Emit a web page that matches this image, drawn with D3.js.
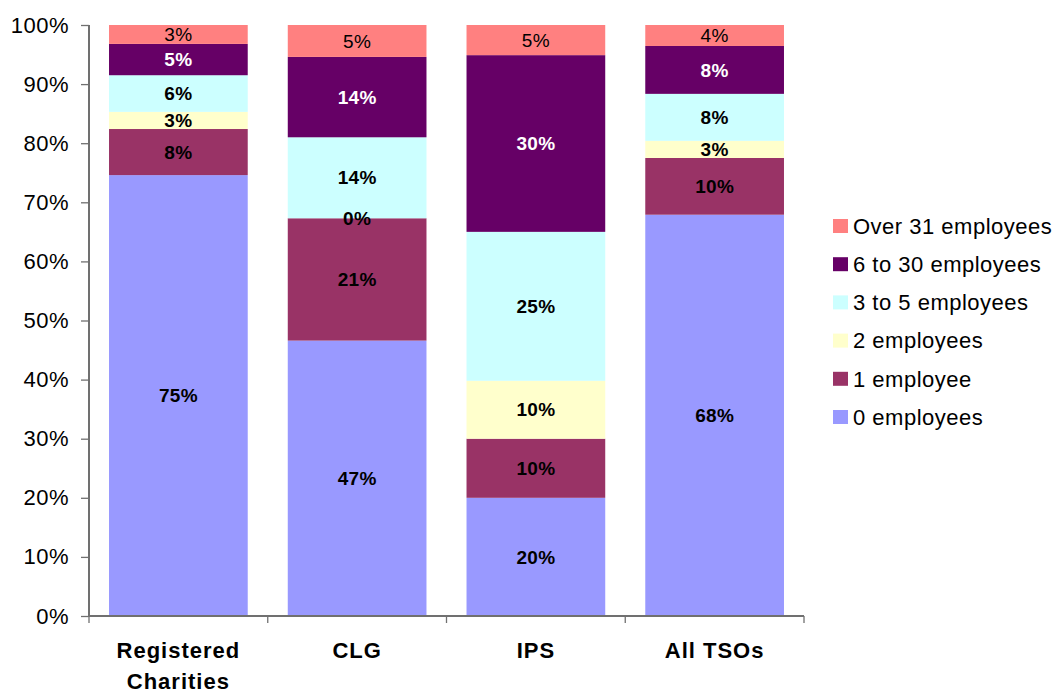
<!DOCTYPE html>
<html>
<head>
<meta charset="utf-8">
<script src="https://cdn.jsdelivr.net/npm/d3@7"></script>
<style>
  body { margin: 0; background: #fff; }
  svg { display: block; font-family: "Liberation Sans", Arial, sans-serif; }
</style>
</head>
<body>
<svg id="chart" width="1060" height="693"></svg>
<script>
// Organisation types (x categories)
const categories = ["Registered Charities", "CLG", "IPS", "All TSOs"];
const categoryLines = [["Registered", "Charities"], ["CLG"], ["IPS"], ["All TSOs"]];

// Employee-size bands, bottom of stack to top
const bands = ["0 employees", "1 employee", "2 employees", "3 to 5 employees", "6 to 30 employees", "Over 31 employees"];

// Share of organisations (%) in each band, one array per band, ordered as categories
const zeroEmployees   = [74.6, 46.6, 20.0, 67.9];
const oneEmployee     = [7.8, 20.7, 10.0, 9.6];
const twoEmployees    = [2.9, 0.0, 9.8, 2.9];
const threeToFive     = [6.2, 13.7, 25.2, 7.95];
const sixToThirty     = [5.3, 13.6, 29.9, 8.1];
const overThirtyOne   = [3.2, 5.4, 5.1, 3.55];

const yTicks = [0, 10, 20, 30, 40, 50, 60, 70, 80, 90, 100];

const colors = ["#9999FF", "#993366", "#FFFFCC", "#CCFFFF", "#660066", "#FF8080"];
const labelColors = ["#000", "#000", "#000", "#000", "#fff", "#000"];
const labelWeights = ["bold", "bold", "bold", "bold", "bold", "normal"];

const seriesValues = [zeroEmployees, oneEmployee, twoEmployees, threeToFive, sixToThirty, overThirtyOne];
const rows = categories.map((c, i) => {
  const r = { category: c };
  bands.forEach((b, j) => { r[b] = seriesValues[j][i]; });
  return r;
});

const svg = d3.select("#chart");
const margin = { left: 89, top: 25, right: 256, bottom: 77 };
const width = 1060 - margin.left - margin.right;
const height = 693 - margin.top - margin.bottom;
const g = svg.append("g").attr("transform", `translate(${margin.left},${margin.top})`);

const x = d3.scaleBand().domain(categories).range([0, width]).paddingInner(0.224).paddingOuter(0.112);
const y = d3.scaleLinear().domain([0, 100]).range([height, 0]);

const stacked = d3.stack().keys(bands)(rows);

// Stacked segments
const layer = g.selectAll("g.layer").data(stacked).enter().append("g")
  .attr("class", "layer")
  .attr("fill", (d, i) => colors[i]);

layer.selectAll("rect").data(d => d).enter().append("rect")
  .attr("x", d => x(d.data.category))
  .attr("width", x.bandwidth())
  .attr("y", d => y(d[1]))
  .attr("height", d => y(d[0]) - y(d[1]));

// Segment value labels
stacked.forEach((s, i) => {
  g.selectAll(null).data(s).enter().append("text")
    .attr("x", d => x(d.data.category) + x.bandwidth() / 2)
    .attr("y", d => y((d[0] + d[1]) / 2))
    .attr("dy", "0.35em")
    .attr("text-anchor", "middle")
    .attr("font-size", "19px")
    .attr("letter-spacing", "0.3px")
    .attr("font-weight", labelWeights[i])
    .attr("fill", labelColors[i])
    .text(d => Math.round(d[1] - d[0]) + "%");
});

// Y axis
const yAxis = g.append("g")
  .call(d3.axisLeft(y).tickValues(yTicks).tickFormat(d => d + "%").tickSize(8).tickPadding(12));
yAxis.selectAll("text").attr("font-size", "22px").attr("letter-spacing", "0.5px").attr("fill", "#000")
  .attr("font-family", "Liberation Sans, Arial, sans-serif");
yAxis.selectAll("line").attr("stroke", "#707070").attr("stroke-width", 1.3);
yAxis.select(".domain").attr("stroke", "#707070").attr("stroke-width", 2).attr("d", `M0,0V${height}`);

// X axis: ticks sit on category boundaries
const boundaries = categories.map(c => x(c) - x.step() * x.paddingInner() / 2).concat([width]);
const xAxis = g.append("g").attr("transform", `translate(0,${height})`);
xAxis.append("line").attr("x1", 0).attr("x2", width).attr("stroke", "#707070").attr("stroke-width", 2);
xAxis.selectAll("line.tick").data(boundaries).enter().append("line")
  .attr("class", "tick")
  .attr("x1", d => d).attr("x2", d => d)
  .attr("y1", 0).attr("y2", 7)
  .attr("stroke", "#707070").attr("stroke-width", 1.3);

const catLabels = xAxis.selectAll("text.cat").data(categories).enter().append("text")
  .attr("class", "cat")
  .attr("x", d => x(d) + x.bandwidth() / 2)
  .attr("y", 42)
  .attr("text-anchor", "middle")
  .attr("font-size", "22px")
  .attr("font-weight", "bold")
  .attr("letter-spacing", "1px")
  .attr("fill", "#000");
catLabels.each(function(d, i) {
  const t = d3.select(this);
  categoryLines[i].forEach((line, k) => {
    t.append("tspan").attr("x", x(d) + x.bandwidth() / 2).attr("dy", k === 0 ? 0 : 31).text(line);
  });
});

// Legend, top band first
const legend = svg.append("g").attr("transform", "translate(833,219)");
const legendOrder = bands.map((b, i) => i).reverse();
legendOrder.forEach((bi, k) => {
  const row = legend.append("g").attr("transform", `translate(0,${k * 38.2})`);
  row.append("rect").attr("width", 15).attr("height", 14).attr("fill", colors[bi]);
  row.append("text")
    .attr("x", 20).attr("y", 7).attr("dy", "0.35em")
    .attr("font-size", "22px")
    .attr("letter-spacing", "0.5px")
    .attr("fill", "#000")
    .text(bands[bi]);
});
</script>
</body>
</html>
